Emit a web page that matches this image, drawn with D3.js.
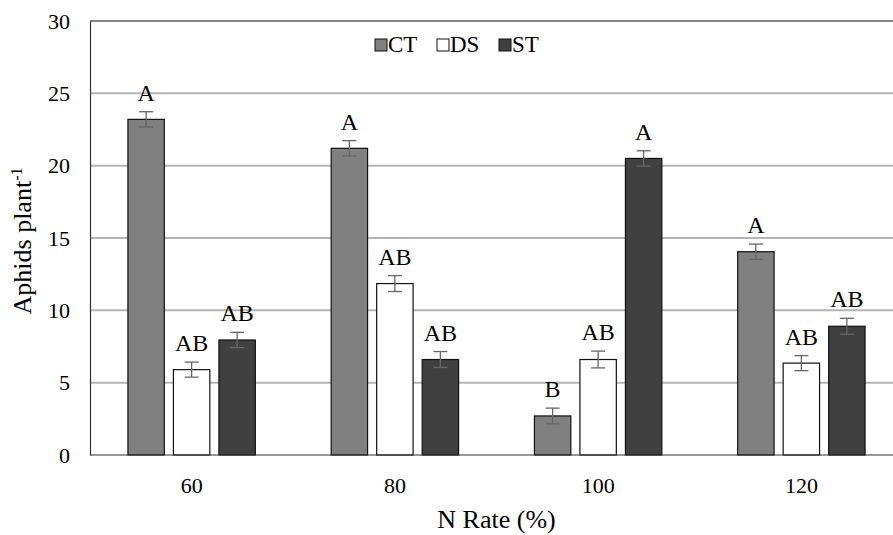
<!DOCTYPE html>
<html>
<head>
<meta charset="utf-8">
<script src="https://cdn.jsdelivr.net/npm/d3@7"></script>
<style>
  body { margin: 0; background: #fff; }
  svg { display: block; }
</style>
</head>
<body>
<svg></svg>
<script>
const w = 893;
const h = 535;

// data
const rates = ['60', '80', '100', '120'];
const series = ['CT', 'DS', 'ST'];
const ctValues = [23.2, 21.2, 2.7, 14.05];
const dsValues = [5.9, 11.85, 6.6, 6.35];
const stValues = [7.95, 6.6, 20.5, 8.9];
const ctErr = [0.53, 0.53, 0.54, 0.53];
const dsErr = [0.52, 0.55, 0.58, 0.52];
const stErr = [0.53, 0.55, 0.53, 0.55];
const ctLetters = ['A', 'A', 'B', 'A'];
const dsLetters = ['AB', 'AB', 'AB', 'AB'];
const stLetters = ['AB', 'AB', 'A', 'AB'];
const yTicks = [0, 5, 10, 15, 20, 25, 30];

const colors = { CT: '#808080', DS: '#ffffff', ST: '#404040' };
const serif = '"Liberation Serif"';

const svg = d3.select('svg').attr('width', w).attr('height', h);

const plotLeft = 90;
const plotRight = 903;
const plotTop = 21;
const plotBottom = 455;

const y = d3.scaleLinear().domain([0, 30]).range([plotBottom, plotTop]);
const x0 = d3.scaleBand().domain(rates).range([plotLeft, plotRight]);
const x1 = d3
  .scaleBand()
  .domain(series)
  .range([x0.bandwidth() / 2 - 63.7, x0.bandwidth() / 2 + 63.7])
  .paddingInner(0.2);

const rows = [];
rates.forEach((r, i) => {
  rows.push({ rate: r, s: 'CT', v: ctValues[i], e: ctErr[i], l: ctLetters[i] });
  rows.push({ rate: r, s: 'DS', v: dsValues[i], e: dsErr[i], l: dsLetters[i] });
  rows.push({ rate: r, s: 'ST', v: stValues[i], e: stErr[i], l: stLetters[i] });
});

// gridlines
svg
  .selectAll('.grid')
  .data(yTicks.filter(t => t > 0 && t < 30))
  .enter()
  .append('line')
  .attr('class', 'grid')
  .attr('x1', plotLeft)
  .attr('x2', w)
  .attr('y1', d => y(d))
  .attr('y2', d => y(d))
  .attr('stroke', '#b4b4b4')
  .attr('stroke-width', 2);

// top border
svg
  .append('line')
  .attr('x1', plotLeft)
  .attr('x2', w)
  .attr('y1', y(30))
  .attr('y2', y(30))
  .attr('stroke', '#595959')
  .attr('stroke-width', 1.5);

// y axis
const yAxis = d3
  .axisLeft(y)
  .tickValues(yTicks)
  .tickSize(0)
  .tickPadding(20);
const gy = svg.append('g').attr('transform', `translate(${plotLeft},0)`).call(yAxis);
gy.select('.domain').attr('stroke', '#333').attr('stroke-width', 1.2);
gy.selectAll('text')
  .style('font-size', '22px')
  .style('font-family', serif)
  .attr('fill', '#000');

// bars
svg
  .selectAll('.bar')
  .data(rows)
  .enter()
  .append('rect')
  .attr('class', 'bar')
  .attr('x', d => x0(d.rate) + x1(d.s))
  .attr('y', d => y(d.v))
  .attr('width', x1.bandwidth())
  .attr('height', d => y(0) - y(d.v))
  .attr('fill', d => colors[d.s])
  .attr('stroke', '#111')
  .attr('stroke-width', 1.2);

// error bars
const eb = svg
  .selectAll('.err')
  .data(rows)
  .enter()
  .append('g')
  .attr('class', 'err')
  .attr('stroke', '#666')
  .attr('stroke-width', 1.3);
const cx = d => x0(d.rate) + x1(d.s) + x1.bandwidth() / 2;
eb.append('line')
  .attr('x1', cx)
  .attr('x2', cx)
  .attr('y1', d => y(d.v + d.e))
  .attr('y2', d => y(d.v - d.e));
eb.append('line')
  .attr('x1', d => cx(d) - 7)
  .attr('x2', d => cx(d) + 7)
  .attr('y1', d => y(d.v + d.e))
  .attr('y2', d => y(d.v + d.e));
eb.append('line')
  .attr('x1', d => cx(d) - 7)
  .attr('x2', d => cx(d) + 7)
  .attr('y1', d => y(d.v - d.e))
  .attr('y2', d => y(d.v - d.e));

// letters
svg
  .selectAll('.letter')
  .data(rows)
  .enter()
  .append('text')
  .attr('class', 'letter')
  .attr('x', cx)
  .attr('y', d => y(d.v + d.e) - 11)
  .attr('text-anchor', 'middle')
  .style('font-family', serif)
  .style('font-size', '24px')
  .text(d => d.l);

// x axis
svg
  .append('line')
  .attr('x1', plotLeft)
  .attr('x2', w)
  .attr('y1', plotBottom)
  .attr('y2', plotBottom)
  .attr('stroke', '#333')
  .attr('stroke-width', 1.2);

svg
  .selectAll('.xtick')
  .data(rates)
  .enter()
  .append('text')
  .attr('class', 'xtick')
  .attr('x', d => x0(d) + x0.bandwidth() / 2)
  .attr('y', 493)
  .attr('text-anchor', 'middle')
  .style('font-family', serif)
  .style('font-size', '22px')
  .text(d => d);

svg
  .append('text')
  .attr('x', (plotLeft + plotRight) / 2)
  .attr('y', 528)
  .attr('text-anchor', 'middle')
  .style('font-family', serif)
  .style('font-size', '26px')
  .text('N Rate (%)');

const yl = svg
  .append('text')
  .attr('transform', 'translate(31,241) rotate(-90)')
  .attr('text-anchor', 'middle')
  .style('font-family', serif)
  .style('font-size', '26px');
yl.append('tspan').text('Aphids plant');
yl.append('tspan').attr('dy', -9).style('font-size', '16px').text('-1');

// legend
const legend = svg
  .selectAll('.legend')
  .data(series)
  .enter()
  .append('g')
  .attr('class', 'legend')
  .attr('transform', (d, i) => `translate(${375 + i * 62},39)`);
legend
  .append('rect')
  .attr('width', 12)
  .attr('height', 12)
  .attr('fill', d => colors[d])
  .attr('stroke', '#111')
  .attr('stroke-width', 1);
legend
  .append('text')
  .attr('x', 13)
  .attr('y', 13)
  .style('font-family', serif)
  .style('font-size', '23px')
  .text(d => d);
</script>
</body>
</html>
